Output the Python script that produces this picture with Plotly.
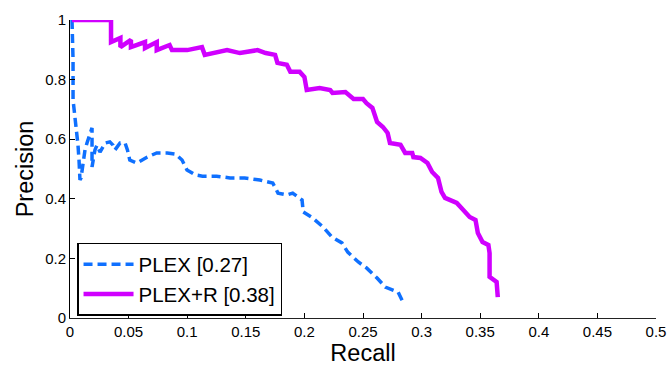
import plotly.graph_objects as go

# PLEX+R curve (recall, precision)
plexr_recall = [0.0017, 0.035, 0.035, 0.043, 0.043, 0.052, 0.052, 0.064, 0.064, 0.074, 0.074, 0.085, 0.087,
                0.100, 0.1126, 0.115, 0.134, 0.145, 0.160, 0.167, 0.175, 0.177, 0.185, 0.188, 0.196, 0.200,
                0.202, 0.213, 0.222, 0.224, 0.235, 0.239, 0.242, 0.250, 0.253, 0.258, 0.262, 0.267, 0.271,
                0.273, 0.282, 0.286, 0.292, 0.293, 0.299, 0.305, 0.309, 0.314, 0.317, 0.320, 0.330, 0.334,
                0.341, 0.346, 0.348, 0.352, 0.357, 0.358, 0.358, 0.364, 0.365]
plexr_precision = [1.0, 1.0, 0.926, 0.940, 0.909, 0.933, 0.909, 0.926, 0.906, 0.926, 0.899, 0.916, 0.899,
                   0.899, 0.909, 0.883, 0.899, 0.889, 0.899, 0.889, 0.883, 0.856, 0.850, 0.826, 0.826, 0.809,
                   0.765, 0.772, 0.765, 0.755, 0.758, 0.742, 0.735, 0.735, 0.721, 0.705, 0.658, 0.641, 0.621,
                   0.587, 0.581, 0.554, 0.554, 0.540, 0.537, 0.520, 0.490, 0.470, 0.423, 0.403, 0.386, 0.369,
                   0.339, 0.329, 0.285, 0.255, 0.245, 0.218, 0.138, 0.121, 0.070]

# PLEX curve (recall, precision)
plex_recall = [0.0017, 0.0026, 0.0026, 0.0043, 0.0051, 0.0060, 0.0068, 0.0077, 0.0085, 0.0094, 0.011,
               0.0128, 0.0145, 0.017, 0.0188, 0.0188, 0.0213, 0.023, 0.0256, 0.030, 0.034, 0.0367, 0.0384,
               0.0427, 0.047, 0.049, 0.051, 0.057, 0.066, 0.074, 0.083, 0.090, 0.0956, 0.0998, 0.107,
               0.113, 0.125, 0.1365, 0.149, 0.162, 0.173, 0.1775, 0.185, 0.190, 0.198, 0.199, 0.207,
               0.216, 0.2235, 0.232, 0.237, 0.246, 0.253, 0.262, 0.269, 0.280, 0.284]
plex_precision = [1.0, 0.866, 0.732, 0.674, 0.654, 0.621, 0.581, 0.530, 0.463, 0.470, 0.523,
                  0.564, 0.587, 0.621, 0.638, 0.507, 0.564, 0.580, 0.557, 0.587, 0.591, 0.580, 0.564,
                  0.587, 0.587, 0.564, 0.530, 0.520, 0.540, 0.554, 0.554, 0.550, 0.530, 0.497, 0.480,
                  0.476, 0.476, 0.470, 0.470, 0.463, 0.453, 0.419, 0.413, 0.419, 0.396, 0.356, 0.336,
                  0.305, 0.272, 0.252, 0.221, 0.188, 0.168, 0.134, 0.104, 0.087, 0.054]

x_ticks = [0, 0.05, 0.1, 0.15, 0.2, 0.25, 0.3, 0.35, 0.4, 0.45, 0.5]
x_tick_labels = ["0", "0.05", "0.1", "0.15", "0.2", "0.25", "0.3", "0.35", "0.4", "0.45", "0.5"]
y_ticks = [0, 0.2, 0.4, 0.6, 0.8, 1]
y_tick_labels = ["0", "0.2", "0.4", "0.6", "0.8", "1"]

BLUE = "rgb(15,112,255)"
MAGENTA = "rgb(208,0,255)"
FONT = "Liberation Sans, Arial, sans-serif"

fig = go.Figure()
fig.add_trace(go.Scatter(x=plex_recall, y=plex_precision, mode="lines", name="PLEX [0.27]",
                         line=dict(color=BLUE, width=3.5, dash="9px,5px")))
fig.add_trace(go.Scatter(x=plexr_recall, y=plexr_precision, mode="lines", name="PLEX+R [0.38]",
                         line=dict(color=MAGENTA, width=4.5)))

fig.update_layout(
    width=668, height=366,
    margin=dict(l=70, r=12, t=20, b=48),
    paper_bgcolor="white", plot_bgcolor="white",
    font=dict(family=FONT, color="black", size=15),
    showlegend=True,
    legend=dict(x=0.012, y=0.007, xanchor="left", yanchor="bottom",
                bgcolor="white", bordercolor="black", borderwidth=1.5,
                font=dict(size=20.5, family=FONT), itemwidth=50, tracegroupgap=0),
    xaxis=dict(range=[0, 0.5], tickvals=x_ticks, ticktext=x_tick_labels, automargin=False,
               ticks="inside", ticklen=5, tickcolor="black", showgrid=False, zeroline=False,
               showline=True, linecolor="#222", linewidth=1,
               title=dict(text="Recall", font=dict(size=23.5, family=FONT), standoff=2),
               tickfont=dict(size=15, family=FONT)),
    yaxis=dict(range=[0, 1], tickvals=y_ticks, ticktext=y_tick_labels, automargin=False,
               ticks="inside", ticklen=5, tickcolor="black", showgrid=False, zeroline=False,
               showline=True, linecolor="black", linewidth=1,
               title=dict(text="Precision", font=dict(size=23.5, family=FONT), standoff=4),
               tickfont=dict(size=15, family=FONT)),
)

fig.write_html("out.html", config={"displayModeBar": False},
               post_script="document.body.style.margin='0';")
